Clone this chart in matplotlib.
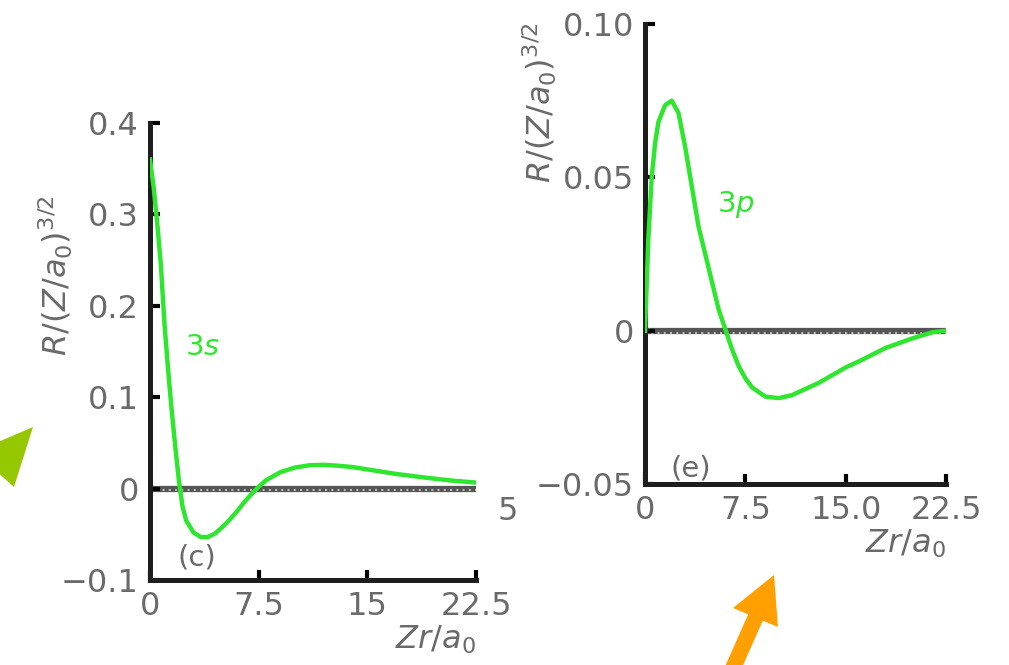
import numpy as np
import matplotlib
matplotlib.use("Agg")
import matplotlib.pyplot as plt
from matplotlib.patches import Polygon

# 3s radial function
r_3s = [0, 0.25, 0.5, 0.75, 1, 1.25, 1.5, 1.75, 2, 2.25, 2.5, 3, 3.5, 4, 4.5, 5, 5.5, 6, 6.5, 7, 7.5, 8,
        9, 10, 11, 12, 13, 14, 15, 17, 19, 21, 22.5]
R_3s = [0.36, 0.33, 0.29, 0.245, 0.18, 0.13, 0.085, 0.045, 0.008, -0.02, -0.035, -0.048, -0.053, -0.053,
        -0.049, -0.042, -0.034, -0.025, -0.015, -0.006, 0.002, 0.009, 0.018, 0.023, 0.0255, 0.026, 0.025,
        0.0235, 0.021, 0.016, 0.012, 0.0085, 0.0066]

# 3p radial function
r_3p = [0, 0.25, 0.5, 0.75, 1, 1.5, 2, 2.5, 3, 3.5, 4, 4.5, 5, 5.5, 6, 6.5, 7, 7.5, 8, 9, 10, 11, 12, 13,
        14, 15, 16, 18, 20, 21.5, 22.5]
R_3p = [0, 0.030, 0.050, 0.061, 0.068, 0.0735, 0.075, 0.071, 0.060, 0.047, 0.034, 0.025, 0.016, 0.007,
        0.0005, -0.006, -0.0115, -0.0155, -0.0185, -0.0215, -0.022, -0.021, -0.019, -0.017, -0.0145,
        -0.012, -0.010, -0.0056, -0.0025, -0.0005, 0.0]

xticks_c = [0, 7.5, 15, 22.5]
xlabels_c = ['0', '7.5', '15', '22.5']
yticks_c = [-0.1, 0, 0.1, 0.2, 0.3, 0.4]
ylabels_c = ['\u22120.1', '0', '0.1', '0.2', '0.3', '0.4']

xticks_e = [0, 7.5, 15, 22.5]
xlabels_e = ['0', '7.5', '15.0', '22.5']
yticks_e = [-0.05, 0, 0.05, 0.10]
ylabels_e = ['\u22120.05', '0', '0.05', '0.10']

W, H = 1009, 665
GREEN = '#2ee62e'
GRAY = '#6a6a6a'
fs = 23

fig = plt.figure(figsize=(W/100, H/100), dpi=100)

def px(pts):
	return [(x/W, 1 - y/H) for x, y in pts]

def style(ax, xt, xl, yt, yl, ylim):
	ax.set_xlim(0, 22.5)
	ax.set_ylim(*ylim)
	for s in ['top', 'right']:
		ax.spines[s].set_visible(False)
	for s in ['left', 'bottom']:
		ax.spines[s].set_linewidth(3.6)
		ax.spines[s].set_color('#1e1e1e')
	ax.set_xticks(xt)
	ax.set_xticklabels(xl)
	ax.set_yticks(yt)
	ax.set_yticklabels(yl)
	ax.tick_params(direction='in', length=7, width=3, color='black', labelsize=fs, labelcolor=GRAY, pad=8)
	ax.axhline(0, color='#555555', lw=4.5, zorder=1)
	ax.axhline(ylim[0]*0.016, color='#bbbbbb', lw=1.5, ls=(0, (1, 2)), zorder=1)
	ax.set_xlabel(r'$Zr/a_0$', fontsize=fs, color=GRAY, loc='right', labelpad=1)
	ax.set_ylabel(r'$R/(Z/a_0)^{3/2}$', fontsize=23, color=GRAY)

# panel (c)
ax1 = fig.add_axes([150/W, 1 - 580/H, 326/W, 457/H])
style(ax1, xticks_c, xlabels_c, yticks_c, ylabels_c, (-0.1, 0.4))
ax1.plot(r_3s, R_3s, color=GREEN, lw=3.2, zorder=3, solid_joinstyle='round')
ax1.text(2.4, 0.155, r'3$s$', color=GREEN, fontsize=21, va='center')
ax1.text(1.9, -0.075, '(c)', color=GRAY, fontsize=21, va='center')
ax1.yaxis.set_label_coords(-0.23, 0.667)

# panel (e)
ax2 = fig.add_axes([645/W, 1 - 484/H, 301/W, 460/H])
style(ax2, xticks_e, xlabels_e, yticks_e, ylabels_e, (-0.05, 0.1))
ax2.plot(r_3p, R_3p, color=GREEN, lw=3.2, zorder=3, solid_joinstyle='round')
ax2.text(5.4, 0.041, r'3$p$', color=GREEN, fontsize=21, va='center')
ax2.text(1.9, -0.045, '(e)', color=GRAY, fontsize=21, va='center')
ax2.yaxis.set_label_coords(-0.285, 0.83)

# stray fragment between panels
fig.text(497/W, 1 - 511/H, '5', color=GRAY, fontsize=fs, va='center')

# pointer marks
fig.add_artist(Polygon(px([(33, 427), (14, 487), (-25, 452)]), closed=True,
	transform=fig.transFigure, color='#95c800', lw=0))
fig.add_artist(Polygon(px([(722.7, 671.8), (748.2, 614.3), (733, 608), (774, 575), (778, 627),
	(762.8, 620.7), (737.3, 678.2)]), closed=True, transform=fig.transFigure, color='#ffa000', lw=0))

fig.savefig('out.png', dpi=100)
